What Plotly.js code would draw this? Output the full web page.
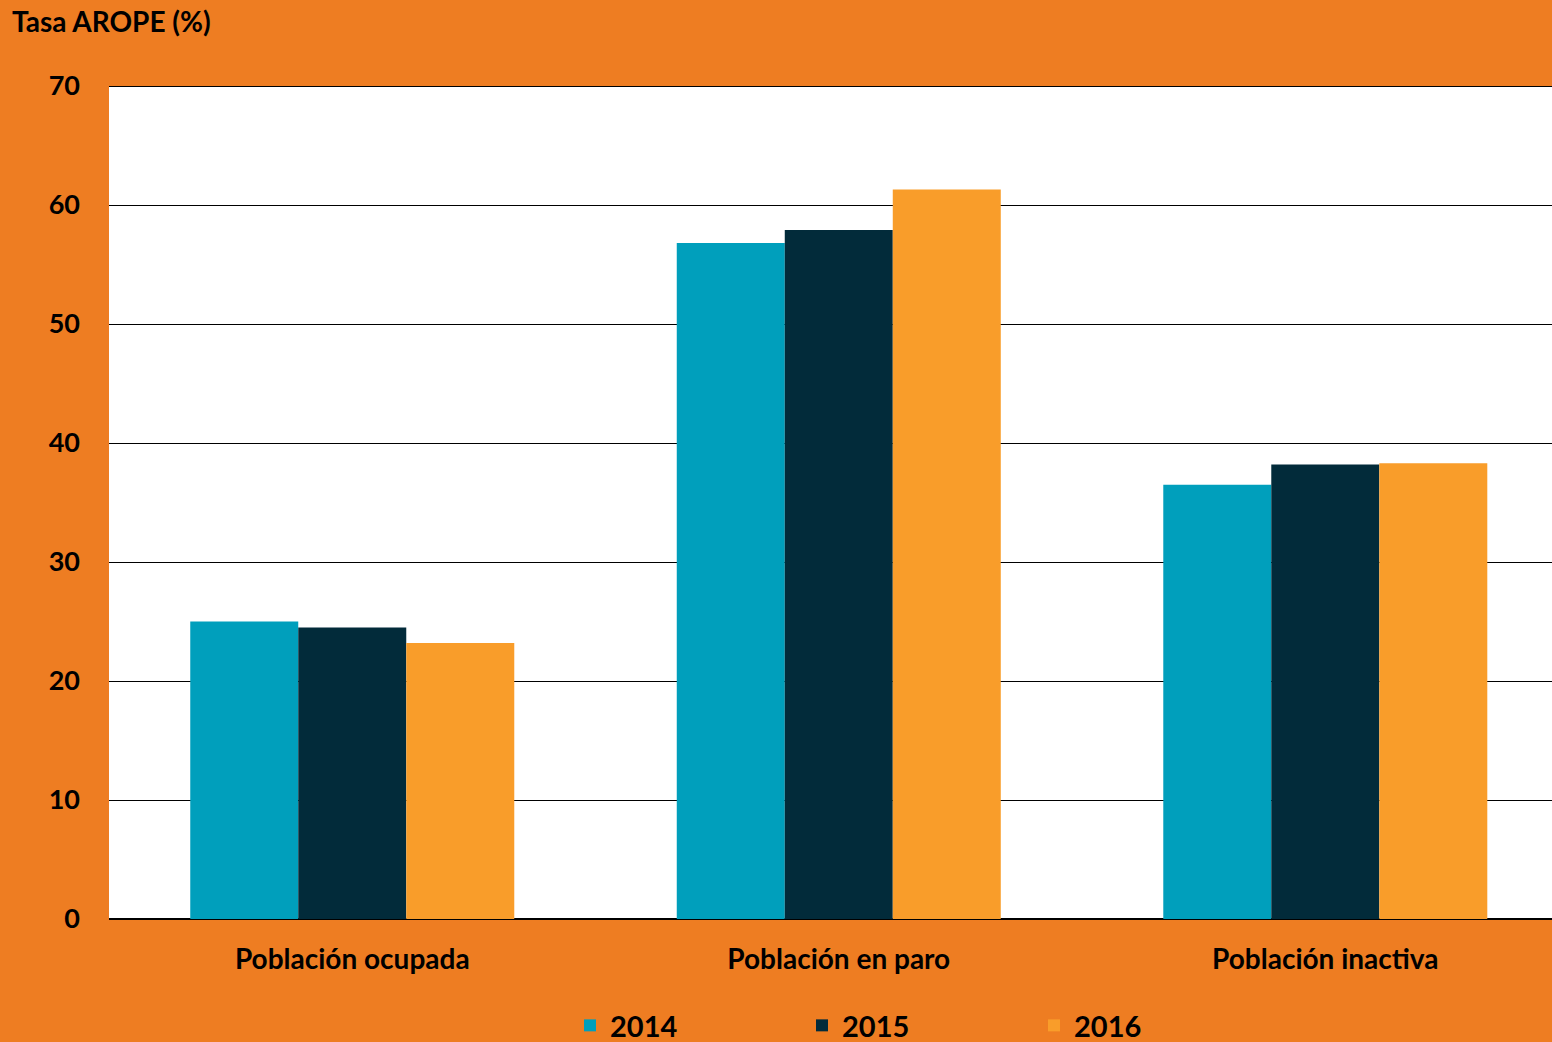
<!DOCTYPE html>
<html>
<head>
<meta charset="utf-8">
<script src="https://cdn.plot.ly/plotly-3.0.1.min.js"></script>
<style>html,body{margin:0;padding:0;background:#EE7D22;}#chart{width:1552px;height:1042px;}</style>
</head>
<body>
<div id="chart"></div>
<script>
const categories = ["Población ocupada", "Población en paro", "Población inactiva"];
const years = ["2014", "2015", "2016"];
const values2014 = [25.0, 56.8, 36.5];
const values2015 = [24.5, 57.9, 38.2];
const values2016 = [23.2, 61.3, 38.3];
const colors = ["#009FBC", "#022B3A", "#F99D2A"];
const yTicks = [0, 10, 20, 30, 40, 50, 60, 70];

const series = [values2014, values2015, values2016];
const data = series.map((v, i) => ({
  type: "bar",
  name: years[i],
  x: categories,
  y: v,
  marker: {color: colors[i], line: {width: 0}},
  hoverinfo: "x+y"
}));

const font = {family: "Lato, 'Open Sans', sans-serif", color: "#000000"};

const layout = {
  width: 1552,
  height: 1042,
  paper_bgcolor: "#EE7D22",
  plot_bgcolor: "#FFFFFF",
  margin: {l: 109, r: 0, t: 86, b: 123, pad: 0, autoexpand: false},
  barmode: "group",
  bargap: 0.334,
  bargroupgap: 0,
  font: font,
  title: {
    text: "<b>Tasa AROPE (%)</b>",
    xref: "container", x: 12 / 1552, xanchor: "left",
    yref: "container", y: 1 - 22 / 1042, yanchor: "middle",
    font: {family: font.family, size: 28, color: "#000000"}
  },
  xaxis: {
    type: "category",
    range: [-0.5, 2.466],
    showgrid: false,
    showline: false,
    zeroline: false,
    ticks: "",
    automargin: false,
    ticklabelstandoff: 21,
    tickfont: {family: font.family, size: 28, color: "#000000", weight: "bold"}
  },
  yaxis: {
    range: [0, 70],
    tickvals: yTicks,
    ticktext: yTicks.map(String),
    showgrid: true,
    gridcolor: "#000000",
    gridwidth: 1,
    zeroline: true,
    zerolinecolor: "#000000",
    zerolinewidth: 1.5,
    showline: false,
    ticks: "",
    automargin: false,
    ticklabelstandoff: 28,
    tickfont: {family: font.family, size: 27, color: "#000000", weight: "bold"}
  },
  showlegend: true,
  legend: {
    orientation: "h",
    xref: "container", x: 570 / 1552, xanchor: "left",
    yref: "container", y: 1 - 1000 / 1042, yanchor: "top",
    entrywidth: 187,
    entrywidthmode: "pixels",
    bgcolor: "rgba(0,0,0,0)",
    itemwidth: 30,
    font: {family: font.family, size: 29, color: "#000000", weight: "bold"}
  },
  shapes: [{
    type: "line", xref: "paper", yref: "y", x0: 0, x1: 1, y0: 70, y1: 70,
    line: {color: "#000000", width: 2}
  }]
};

Plotly.newPlot("chart", data, layout, {displayModeBar: false, staticPlot: true});
</script>
</body>
</html>
